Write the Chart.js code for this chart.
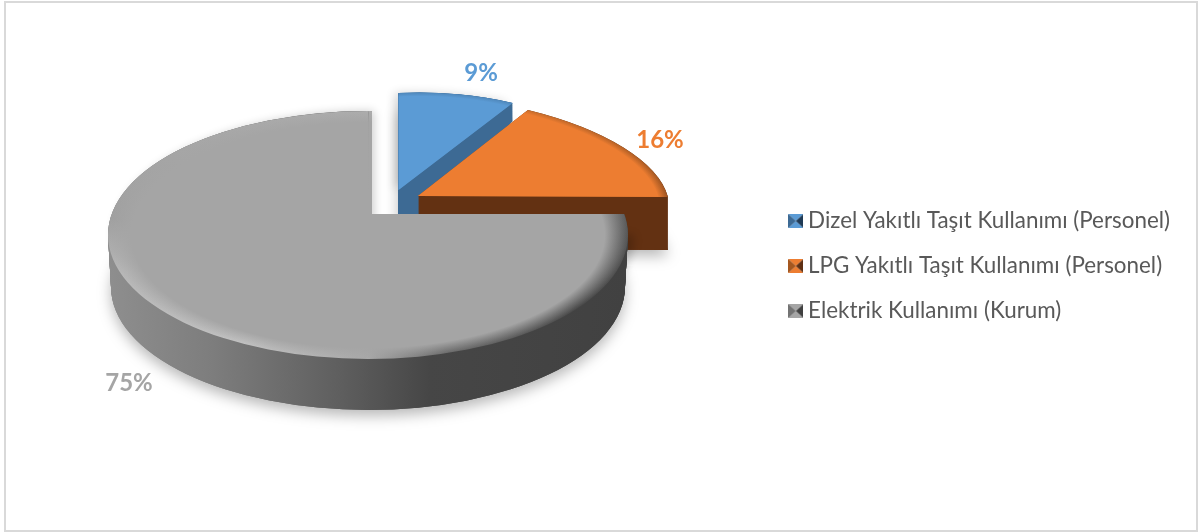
<!DOCTYPE html>
<html>
<head>
<meta charset="utf-8">
<style>
html,body{margin:0;padding:0;background:#fff}
#frame{position:absolute;left:4px;top:1px;width:1190px;height:527px;border:2px solid #d9d9d9}
canvas{position:absolute;left:0;top:0}
</style>
<script src="https://cdn.jsdelivr.net/npm/chart.js@4"></script>
</head>
<body>
<div id="frame"></div>
<canvas id="c" width="1200" height="532"></canvas>
<script>
const categories = ['Dizel Yakıtlı Taşıt Kullanımı (Personel)', 'LPG Yakıtlı Taşıt Kullanımı (Personel)', 'Elektrik Kullanımı (Kurum)'];
const shares = [9, 16, 75];
const faceColors = ['#5b9bd5', '#ed7d31', '#a5a5a5'];
const labelFont = '700 24px Lato';

// Projection of each slice's unit circle on screen, top face (t=0) and base (t=1)
const geometry = [
  { top:{a:213,c:0,b:-9.6,d:97,e:398.5,f:190}, base:{a:213,c:0,b:-9.6,d:129,e:398.5,f:235},
    wall:[[0,'#3d6a94'],[1,'#3d6a94']], rim:[[0,'#4f87ba'],[1,'#4f87ba']], label:[481,73],
    edgeShadow:{x:-4,y:0,blur:10,alpha:.16} },
  { top:{a:250,c:28.4,b:1,d:102.5,e:418,f:196}, base:{a:250,c:28.4,b:1,d:102.5,e:418,f:249},
    wall:[[0,'#633112'],[1,'#633112']], rim:[[0,'#9a5220'],[.75,'#e07a30'],[1,'#9a5220']], label:[660,140] },
  { top:{a:260,c:0,b:0,d:124,e:368,f:235}, base:{a:257,c:0,b:0,d:123,e:368,f:287},
    notch:{x:372,y:214},
    wall:[[0,'#8e8e8e'],[.2,'#7d7d7d'],[.45,'#5e5e5e'],[.62,'#464646'],[1,'#414141']],
    rim:[[0,'#555555'],[.1,'#474747'],[.2,'#6a6a6a'],[.25,'#a8a8a8'],[.33,'#c2c2c2'],[.45,'#b8b8b8'],[.52,'#a0a0a0'],[.75,'#adadad'],[1,'#555555']],
    label:[129,383], edgeShadow:{x:6,y:0,blur:10,alpha:.2} }
];
const dropShadow = {x:0,y:6,blur:14,alpha:.28};

function lerp(p,q,t){ const r={}; for(const k in p) r[k]=p[k]+(q[k]-p[k])*t; return r; }

function drawSlice(ctx, arc, m, style, notchDrop, notch, shadow){
  const R = arc.outerRadius;
  ctx.save();
  if (notch){
    ctx.beginPath();
    ctx.rect(0,0,1200,532);
    ctx.rect(notch.x,0,1200,notch.y+notchDrop);
    ctx.clip('evenodd');
  }
  if (shadow){
    ctx.shadowColor='rgba(0,0,0,'+shadow.alpha+')';
    ctx.shadowBlur=shadow.blur; ctx.shadowOffsetX=shadow.x; ctx.shadowOffsetY=shadow.y;
  }
  ctx.translate(m.e,m.f);
  ctx.transform(m.a/R,m.b/R,m.c/R,m.d/R,0,0);
  ctx.translate(-arc.x,-arc.y);
  const saved = arc.options, savedStart = arc.startAngle;
  if (notch) arc.startAngle = arc.endAngle - Math.PI*2 + 0.001;
  arc.options = Object.assign({}, saved, {backgroundColor: style(ctx,arc,R), borderWidth:0, borderColor:'transparent'});
  arc.draw(ctx);
  arc.options = saved; arc.startAngle = savedStart;
  ctx.restore();
}

const pie3d = {
  id:'pie3d',
  beforeDatasetsDraw(chart){
    const ctx = chart.ctx, arcs = chart.getDatasetMeta(0).data;
    arcs.forEach((arc,i)=>{
      const g = geometry[i], depth = Math.round(g.base.f-g.top.f);
      const wallStyle = (c,a,R)=>{
        const lg = c.createLinearGradient(a.x-R,0,a.x+R,0);
        g.wall.forEach(s=>lg.addColorStop(s[0],s[1]));
        return lg;
      };
      if (g.edgeShadow) drawSlice(ctx,arc,g.top,()=>faceColors[i],0,null,g.edgeShadow);
      drawSlice(ctx,arc,g.base,wallStyle,depth,g.notch,dropShadow);
      for(let k=depth;k>=0;k--){
        const t=k/depth;
        drawSlice(ctx,arc,lerp(g.top,g.base,t),wallStyle,depth*t,g.notch,null);
      }
      // rim colour, varying round the edge
      drawSlice(ctx,arc,g.top,(c,a)=>{
        const cg=c.createConicGradient(0,a.x,a.y);
        g.rim.forEach(s=>cg.addColorStop(s[0],s[1]));
        return cg;
      },0,g.notch,null);
      // flat face fading out to the rim
      drawSlice(ctx,arc,g.top,(c,a,R)=>{
        const rg=c.createRadialGradient(a.x,a.y,0,a.x,a.y,R);
        const base=faceColors[i];
        rg.addColorStop(0,base); rg.addColorStop(i===2?.91:.96,base); rg.addColorStop(1,base+'00');
        return rg;
      },0,g.notch,null);
    });
    ctx.save();
    ctx.font=labelFont; ctx.textAlign='center'; ctx.textBaseline='middle';
    shares.forEach((v,i)=>{
      ctx.fillStyle=faceColors[i];
      ctx.fillText(v+'%',geometry[i].label[0],geometry[i].label[1]);
    });
    ctx.restore();
    return false;
  }
};

function marker(base,side,dark){
  const c=document.createElement('canvas'); c.width=15; c.height=14;
  const x=c.getContext('2d');
  const tri=(col,p)=>{x.fillStyle=col;x.beginPath();x.moveTo(p[0],p[1]);x.lineTo(p[2],p[3]);x.lineTo(p[4],p[5]);x.fill();};
  tri(base,[0,0,15,0,7.5,7]); tri(base,[0,14,15,14,7.5,7]);
  tri(side,[0,0,0,14,7.5,7]); tri(dark,[15,0,15,14,7.5,7]);
  return c;
}
const markers=[marker('#5b9bd5','#3d6a94','#1f3a55'),marker('#ed7d31','#a5571f','#5f3014'),marker('#a5a5a5','#737373','#404040')];

document.fonts.load(labelFont).then(()=>document.fonts.load('400 22px Lato')).finally(()=>{
new Chart(document.getElementById('c'),{
  type:'pie',
  data:{labels:categories,datasets:[{data:shares,backgroundColor:faceColors,borderWidth:0}]},
  options:{
    responsive:false,animation:false,devicePixelRatio:1,
    layout:{padding:{right:20}},
    plugins:{
      tooltip:{enabled:false},
      legend:{
        position:'right',
        labels:{
          font:{family:'Lato',size:22.4},color:'#595959',padding:22.6,
          usePointStyle:true,pointStyleWidth:2,
          generateLabels:()=>categories.map((t,i)=>({text:t,fillStyle:faceColors[i],strokeStyle:faceColors[i],lineWidth:0,pointStyle:markers[i],hidden:false,index:i,fontColor:'#595959'}))
        }
      }
    }
  },
  plugins:[pie3d]
});
});
</script>
</body>
</html>
